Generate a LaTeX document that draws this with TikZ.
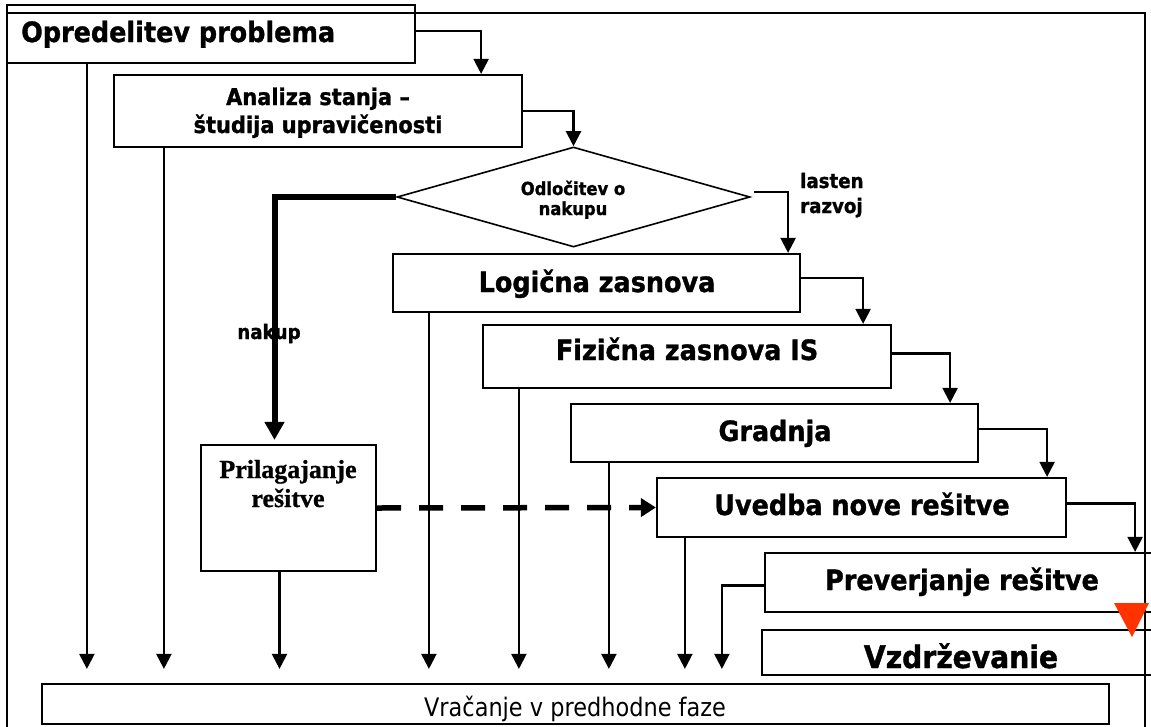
\documentclass[tikz,border=0pt]{standalone}
\usepackage{fontspec}
\newfontfamily\sansb[FakeStretch=0.91, BoldFeatures={FakeBold=1.2}]{DejaVu Sans}
\newfontfamily\sansr[FakeStretch=0.88]{DejaVu Sans}
\newfontfamily\serifb[BoldFeatures={FakeBold=0.8}]{Liberation Serif}
\usetikzlibrary{arrows.meta,shapes.geometric}
\definecolor{tipred}{HTML}{FF3300}

\begin{document}
\begin{tikzpicture}[x=1pt,y=-1pt,
  box/.style={draw=black, line width=2.2pt, inner sep=0pt, rectangle},
  lbl/.style={inner sep=0pt, anchor=base},
  phase/.style={lbl, font=\sansb\bfseries\fontsize{28}{32}\selectfont},
  small/.style={lbl, font=\sansb\bfseries\fontsize{20}{24}\selectfont},
  conn/.style={draw=black, line width=2.2pt, line join=miter,
    -{Triangle[length=15pt,width=15pt]}},
  back/.style={conn, shorten >=14pt},
  buy/.style={draw=black, line width=6pt, line join=miter,
    -{Triangle[length=18pt,width=19pt]}, shorten >=4pt},
  adapt/.style={draw=black, line width=5.5pt, dash pattern=on 24pt off 18pt,
    -{Triangle[length=15pt,width=18pt]}}]
\useasboundingbox (0,0) rectangle (1151,726);
\clip (0,0) rectangle (1151,726);

% outer frame
\draw[line width=2.2pt] (7,13) rectangle (1145,760);

% phase boxes
\node[box, minimum width=408, minimum height=58] (opr) at (211,34) {};
\node[box, minimum width=408, minimum height=72] (ana) at (318,111) {};
\node[draw=black, line width=1.6pt, shape=diamond, inner sep=0pt,
      minimum width=353, minimum height=100] (dec) at (573.5,197) {};
\node[box, minimum width=407, minimum height=58] (log) at (596.5,283) {};
\node[box, minimum width=408, minimum height=63] (fiz) at (687,356.5) {};
\node[box, minimum width=407, minimum height=58] (gra) at (774.5,433) {};
\node[box, minimum width=409, minimum height=59] (uve) at (861.5,507.5) {};
\node[box, minimum width=400, minimum height=59] (prev) at (965,582.5) {};
\node[box, minimum width=403, minimum height=45] (vzd) at (963.5,652.5) {};
\node[box, minimum width=175, minimum height=126] (pri) at (288.5,508) {};
\node[box, minimum width=1067, minimum height=40] (vra) at (575.5,704) {};

% forward flow between phases
\draw[conn] ([yshift=3pt]opr.east) -| ([xshift=-42pt]ana.north east);
\draw[conn] (ana.east) -| (dec.north);
\draw[conn] ([xshift=3pt,yshift=5pt]dec.east) -| ([xshift=-13pt]log.north east);
\draw[conn] ([yshift=5pt]log.east) -| ([xshift=-29pt]fiz.north east);
\draw[conn] ([yshift=3pt]fiz.east) -| ([xshift=-29pt]gra.north east);
\draw[conn] ([yshift=4pt]gra.east) -| ([xshift=-20pt]uve.north east);
\draw[conn] ([yshift=4pt]uve.east) -| ([xshift=-31pt]prev.north east);

% buying branch and adaptation
\draw[buy] (dec.west) -| ([xshift=-14pt]pri.north);
\draw[adapt] (pri.east) -- (uve.west);

% returns to earlier phases
\coordinate (r1) at ([xshift=81pt]opr.south west);
\coordinate (r2) at ([xshift=51pt]ana.south west);
\coordinate (r3) at ([xshift=-9pt]pri.south);
\coordinate (r4) at ([xshift=37pt]log.south west);
\coordinate (r5) at ([xshift=37pt]fiz.south west);
\coordinate (r6) at ([xshift=39pt]gra.south west);
\coordinate (r7) at ([xshift=29pt]uve.south west);
\coordinate (r8) at ([xshift=-42pt,yshift=-3pt]prev.west);
\foreach \r in {r1,r2,r3,r4,r5,r6,r7}
  \draw[back] (\r) -- (\r |- vra.north);
\draw[back] ([yshift=-3pt]prev.west) -- (r8) -- (r8 |- vra.north);

% maintenance marker
\fill[tipred] (1114,603) -- (1149,603) -- (1132,637) -- cycle;

% labels
\node[phase, anchor=base west] (t-opr) at (21,42) {Opredelitev problema};
\node[lbl, font=\sansb\bfseries\fontsize{23}{28}\selectfont] (t-ana1) at (318,105) {Analiza stanja –};
\node[lbl, font=\sansb\bfseries\fontsize{23}{28}\selectfont] (t-ana2) at (318,133) {študija upravičenosti};
\node[lbl, font=\sansb\bfseries\fontsize{18}{22}\selectfont] (t-dec1) at (573,195) {Odločitev o};
\node[lbl, font=\sansb\bfseries\fontsize{18}{22}\selectfont] (t-dec2) at (573,215) {nakupu};
\node[small, anchor=base west] (t-las1) at (800,188) {lasten};
\node[small, anchor=base west] (t-las2) at (800,213) {razvoj};
\node[small] (t-nak) at (269,339) {nakup};
\node[phase] (t-log) at (597,292) {Logična zasnova};
\node[phase] (t-fiz) at (687,360) {Fizična zasnova IS};
\node[phase] (t-gra) at (775,441) {Gradnja};
\node[phase] (t-uve) at (862,515) {Uvedba nove rešitve};
\node[phase] (t-prev) at (962,590) {Preverjanje rešitve};
\node[lbl, font=\sansb\bfseries\fontsize{31}{36}\selectfont] (t-vzd) at (961,668) {Vzdrževanie};
\node[lbl, font=\sansr\fontsize{25.5}{30}\selectfont] (t-vra) at (575,716) {Vračanje v predhodne faze};
\node[lbl, font=\serifb\bfseries\fontsize{26}{30}\selectfont] (t-pri1) at (288,478) {Prilagajanje};
\node[lbl, font=\serifb\bfseries\fontsize{26}{30}\selectfont] (t-pri2) at (288,507) {rešitve};
\end{tikzpicture}
\end{document}
